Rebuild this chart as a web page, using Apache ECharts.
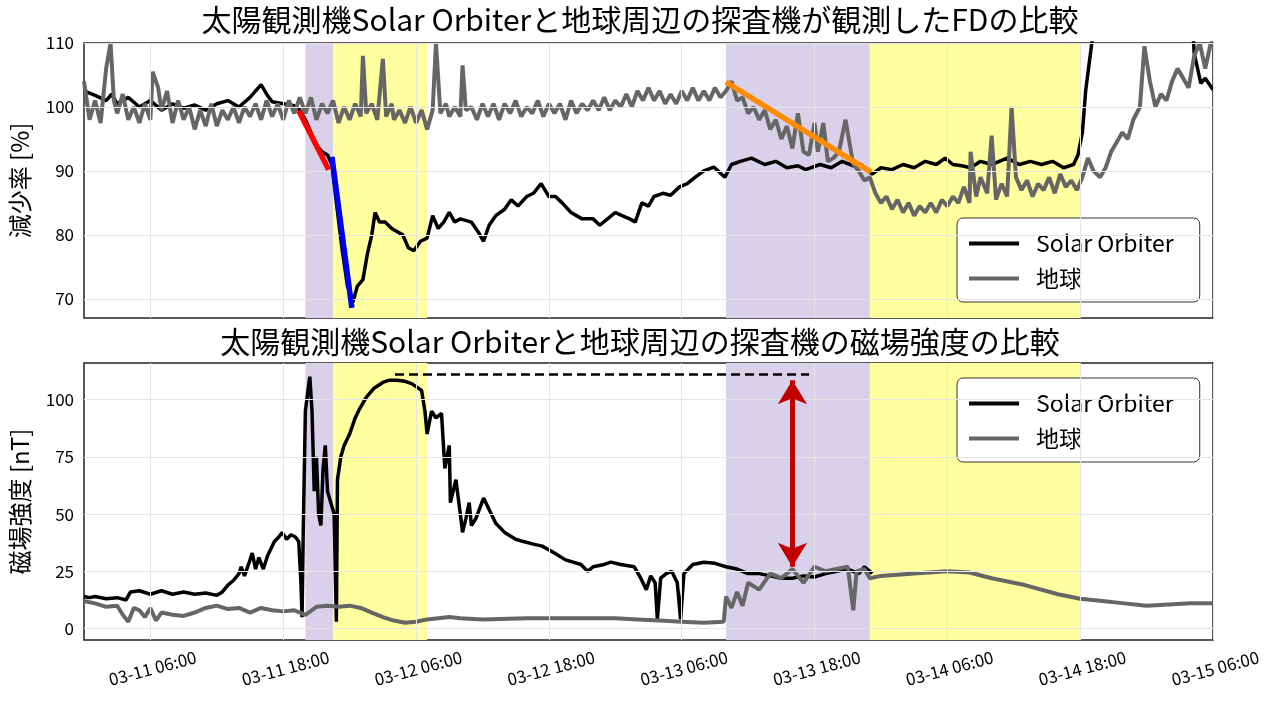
<!DOCTYPE html>
<html>
<head>
<meta charset="utf-8">
<script src="https://cdn.jsdelivr.net/npm/echarts@6/dist/echarts.min.js"></script>
<style>html,body{margin:0;background:#fff}#main{width:1280px;height:709px}</style>
</head>
<body>
<div id="main"></div>
<script>
// hours since 03-11 00:00
var soFdH = [0,1,2,2.5,3,4,5,6,7,8,9,10,11,12,13,14,15,16,16.5,17,18,19,19.5,20,20.5,21,21.5,22,22.4,22.8,23.3,23.8,24.3,24.7,25.2,25.6,26,26.3,26.7,27.2,27.8,28.3,28.8,29.3,29.8,30.4,31,31.5,32,32.5,33,33.5,34,35,35.6,36.1,36.6,37.2,38,38.6,39.2,40,40.6,41.3,42,42.6,43.2,44,45,46,46.6,47.3,48,48.6,49.3,49.8,50.4,51,51.5,52.3,53,53.8,54.5,55.2,56,56.9,57.9,58.5,59.3,60.3,61.5,62.5,63.5,64.5,65.2,66.5,67.5,68.5,69.5,70.2,71.2,72,73,74,75,76,77,77.8,78.5,79.3,80.1,81,82,83.4,84.5,85.5,86.5,87.5,88.5,89.4,89.8,90.2,90.5,91.2,92,100,100.3,100.9,101.3,102];
var soFdV = [102.5,101.8,101,102,100.5,101.5,100,101,99.5,100.5,99.8,100.3,99.5,100.5,101,100,101.5,103.5,102,100.8,100.5,100.2,99.5,98,96,94,93,92.5,91,85,78,72,69.5,72,73,77,80,83.5,82,82,81,80.5,80,78,77.5,79,79.5,83,81,82,83.5,82,82.5,82,80.5,79,81.5,83,84,85.5,84.5,86,86.5,88,86,86,85,83.5,82.5,82.5,81.5,82.5,83.5,83,82.5,82,85,84.5,86,86.5,86.2,87.5,88,89,90,90.6,89,91,91.5,92,91,91.5,90.5,90.8,90.2,91,90.5,91.5,90.8,91,89.5,90.5,90.2,91,90.5,91.5,91,92,91,90.8,90.5,91.5,91,92,91,91.5,91,91.5,90.5,91,92.5,96,102.6,112,118,118,108.4,103.7,104.5,102.7];
var earthFdH = [0,0.5,1,1.5,2,2.4,2.7,3,3.5,4,4.5,5,5.5,6,6.2,6.7,7,7.5,8,8.5,9,9.5,10,10.5,11,11.5,12,12.5,13,13.5,14,14.5,15,15.5,16,16.5,17,17.5,18,18.5,19,19.5,20,20.5,21,21.5,22,22.5,23,23.5,24,24.5,25,25.2,25.5,26,26.5,27,27.3,27.8,28,28.5,29,29.5,30,30.5,31,31.5,31.8,32.2,32.7,33,33.5,34,34.2,34.5,35,35.5,36,36.5,37,37.5,38,38.5,39,39.5,40,40.5,41,41.5,42,42.5,43,43.5,44,44.5,45,45.5,46,46.5,47,47.5,48,48.5,49,49.5,50,50.5,51,51.5,52,52.5,53,53.5,54,54.5,55,55.5,56,56.5,57,57.5,58,58.5,59,59.5,60,60.5,61,61.5,62,62.5,63,63.5,64,64.5,65,65.5,66,66.3,66.8,67.2,67.7,68.2,68.8,69.5,70,70.5,71,71.5,72,72.5,73,73.5,74,74.5,75,75.5,76,76.5,77,77.5,78,78.5,79,79.5,80,80.1,80.6,81,81.6,82,82.4,82.9,83.4,83.8,84.2,84.7,85.2,85.7,86.2,86.7,87.2,87.7,88.2,88.7,89.2,89.7,90.2,90.7,91.2,91.8,92.3,92.8,93.3,93.8,94.3,94.8,95.4,95.8,96.3,96.8,97.3,97.8,98.3,98.8,99.3,99.8,100.3,100.8,101.3,101.8,102];
var earthFdV = [104,98,101,97.5,106,110,101,99,102,98,100,97.5,100.5,98,105.5,103,99.5,102.5,97.5,101,98,100,96.5,99.5,97,100.5,97,99.5,98,100,97.5,100,98.5,100.5,98,101,98.5,100.5,98,101,99,101.5,99,101.5,98,100.5,99,101,97.5,100,98,100.5,98.5,108,99,100.5,98,107.5,98.5,100.5,98,99.5,97.5,100,97.5,99.5,96.5,99.5,110,99,100.5,98.5,100,98.5,106.5,99.5,100,98,100.5,98.5,100.5,98,100.5,99,101,98.5,100,99,101,98.5,100.5,99,100.5,98,101,99,100.5,99.5,101,99.5,101.5,99.5,101,100,102,100,102.5,101,103,101,102.5,100.5,102,100.5,102.5,101,103,101,102.5,101,103,101.5,102.5,104,101,101.5,99,100,98,99.5,96.5,98,95,97,93.5,99,93,92.5,97.5,93,97.5,91.5,92,93,98,91,90,88.5,89,86.5,85,86,84,85.5,83.5,85,83,84.5,83.5,85,83.5,85.5,84.5,86,85,87.5,85,93,86,89,86.5,95.5,85.5,88,86,100,89,87,88.5,86,88,87,89,86.5,89.5,87.5,88.5,87,89,92,90,89,90.5,93,94.5,96,95,98,100,109.5,104,100,102,101,104,106,104.5,103,108,110,106,110,110];
var soBH = [0,0.5,1,2,3,3.8,4.2,5,6,7,8,9,10,11,12,12.5,13,13.5,14,14.2,14.5,15,15.2,15.5,15.8,16.2,16.6,17,17.2,17.6,17.9,18.3,18.7,19.1,19.4,19.6,19.7,19.8,20,20.4,20.6,20.8,21,21.2,21.4,21.6,21.8,22,22.3,22.6,22.8,22.9,23.2,23.5,24,24.5,24.9,25.5,26.2,27,27.6,28.3,29,29.6,30.2,30.5,30.8,31,31.4,31.8,32.3,32.6,33,33.1,33.6,34,34.2,34.5,34.8,35,35.4,36.1,36.6,37.2,38,39,39.7,40.5,41.4,42.5,43.5,44.9,45.5,46,47,47.6,48.5,49.7,50.3,50.8,51.2,51.6,51.8,52.1,52.6,53.1,53.6,53.9,54.2,55,56,57,58,59,60,61,62,63,64,65,66,67,68,69,70,70.5,71,71.2];
var soBV = [14,13.5,14,13,13.5,12.5,16,16.5,15,16.5,15,16,15,15.5,14.5,16,19,21,24,27,23,30,33,26,31,26,32,36,38,40,42,39,41,40,38,20,5,40,95,110,95,60,75,50,45,70,80,60,55,50,3,65,75,80,85,92,96,101,105,107.5,108.5,108.5,108,107,105,104,95,85,95,92,94,70,80,55,65,50,42,48,55,45,48,57,52,46,42,39,38,37,36,33,30,28,25,27,28,29,28,27,22,17,23,20,4,22,24,25,20,4,24,28,29,28.5,27,26,24,24,23,22,22,23,22.5,24,25,26,24,27,25,24];
var earthBH = [0,1,2,3,3.5,4,4.5,5,5.5,6,6.5,7,8,9,10,11,12,13,14,15,16,17,18,19,20,21,22,23,24,25,26,27,28,29,30,31,32,33,34,36,40,44,48,50,52,54,56,57.8,58,58.5,59,59.5,60,61,62,63,64,65,66,67,68,69,69.5,69.8,70.5,71,72,75,78,80,82,85,88,90,92,94,96,98,100,102];
var earthBV = [12,11,9.5,10,6,3,9,8,5,9,3.5,7,6,5.5,7,9,10,8.5,9,7,9,8,7.5,8,6,9.5,10,9.5,10,9,7,5,3.5,2.5,3,4,4.5,5,4.5,4,4.5,4.5,4.5,4,3.5,3,2.5,3,14,9,16,10,20,17,24,22,26,20,27,25,26,27,8,25,26,22,23,24,25,24.5,22,19,15,13,12,11,10,10.5,11,11];
var purpleBands = [[20, 22.5], [58, 71]];
var yellowBands = [[22.5, 31], [71, 90]];
var tickHours = [6, 18, 30, 42, 54, 66, 78, 90, 102];
var tickLabels = ['03-11 06:00','03-11 18:00','03-12 06:00','03-12 18:00','03-13 06:00','03-13 18:00','03-14 06:00','03-14 18:00','03-15 06:00'];
var fdTicks = [70, 80, 90, 100, 110];
var bTicks = [0, 25, 50, 75, 100];

function pairs(h, v) { return h.map(function (x, i) { return [x, v[i]]; }); }
var font = 'Noto Sans CJK JP';
var gridColor = '#e6e6e6';

function bands(gi, yTicks) {
  var a = [];
  purpleBands.forEach(function (b) { a.push([{xAxis: b[0], itemStyle: {color: '#d9d0e9'}}, {xAxis: b[1]}]); });
  yellowBands.forEach(function (b) { a.push([{xAxis: b[0], itemStyle: {color: '#ffffa0'}}, {xAxis: b[1]}]); });
  var lines = tickHours.map(function (t) { return {xAxis: t}; })
    .concat(yTicks.map(function (t) { return {yAxis: t}; }));
  return {
    type: 'line', xAxisIndex: gi, yAxisIndex: gi, data: [], silent: true,
    markArea: {silent: true, data: a},
    markLine: {silent: true, symbol: 'none', label: {show: false},
      lineStyle: {color: gridColor, width: 1, type: 'solid'}, data: lines}
  };
}
function seg(gi, p0, p1, color) {
  return {type: 'line', xAxisIndex: gi, yAxisIndex: gi, data: [p0, p1], symbol: 'none',
    lineStyle: {color: color, width: 5.5}, silent: true, z: 5};
}
function xAx(gi, labels) {
  return {type: 'value', gridIndex: gi, min: 0, max: 102, interval: 6,
    splitLine: {show: false}, axisTick: {show: false}, axisLine: {show: false},
    axisLabel: {show: labels, rotate: 15, margin: 20, align: 'center', verticalAlign: 'top',
      fontFamily: font, fontSize: 17, color: '#000',
      formatter: function (v) { var i = tickHours.indexOf(v); return i >= 0 ? tickLabels[i] : ''; }}};
}
function yAx(gi, name, min, max, step, ticks) {
  return {type: 'value', gridIndex: gi, min: min, max: max, interval: step,
    name: name, nameLocation: 'middle', nameGap: 52, nameRotate: 90,
    nameTextStyle: {fontFamily: font, fontSize: 24, color: '#000'},
    splitLine: {show: false}, axisTick: {show: false}, axisLine: {show: false},
    axisLabel: {fontFamily: font, fontSize: 17, color: '#000', margin: 10,
      formatter: function (v) { return ticks.indexOf(Math.round(v)) >= 0 && Math.abs(v - Math.round(v)) < 1e-6 ? String(Math.round(v)) : ''; }}};
}
function legend(top) {
  return {left: 957, top: top, orient: 'vertical', itemGap: 12, itemWidth: 50, itemHeight: 4,
    icon: 'rect', padding: [14, 26, 12, 12], backgroundColor: '#fff', borderColor: '#333',
    borderWidth: 1, borderRadius: 6,
    textStyle: {fontFamily: font, fontSize: 23, color: '#000', padding: [0, 0, 0, 12]},
    data: ['Solar Orbiter', '地球']};
}

var chart = echarts.init(document.getElementById('main'));
chart.setOption({
  animation: false,
  backgroundColor: '#fff',
  title: [
    {text: '太陽観測機Solar Orbiterと地球周辺の探査機が観測したFDの比較', left: 'center', top: 0,
      textStyle: {fontFamily: font, fontSize: 30, fontWeight: 'normal', color: '#000'}},
    {text: '太陽観測機Solar Orbiterと地球周辺の探査機の磁場強度の比較', left: 'center', top: 322,
      textStyle: {fontFamily: font, fontSize: 30, fontWeight: 'normal', color: '#000'}}
  ],
  legend: [legend(218), legend(378)],
  grid: [
    {left: 82, right: 67, top: 43, height: 275, show: true, borderColor: '#222', borderWidth: 1.5, backgroundColor: 'transparent'},
    {left: 82, right: 67, top: 363, height: 277, show: true, borderColor: '#222', borderWidth: 1.5, backgroundColor: 'transparent'}
  ],
  xAxis: [xAx(0, false), xAx(1, true)],
  yAxis: [yAx(0, '減少率 [%]', 67, 110, 1, fdTicks), yAx(1, '磁場強度 [nT]', -5, 116, 5, bTicks)],
  series: [
    bands(0, fdTicks), bands(1, bTicks),
    {name: 'Solar Orbiter', type: 'line', xAxisIndex: 0, yAxisIndex: 0, data: pairs(soFdH, soFdV),
      symbol: 'none', itemStyle: {color: '#000'}, lineStyle: {color: '#000', width: 3.5}, z: 3},
    {name: '地球', type: 'line', xAxisIndex: 0, yAxisIndex: 0, data: pairs(earthFdH, earthFdV),
      symbol: 'none', itemStyle: {color: '#666'}, lineStyle: {color: '#666', width: 4}, z: 4},
    {name: 'Solar Orbiter', type: 'line', xAxisIndex: 1, yAxisIndex: 1, data: pairs(soBH, soBV),
      symbol: 'none', itemStyle: {color: '#000'}, lineStyle: {color: '#000', width: 3.5}, z: 3},
    {name: '地球', type: 'line', xAxisIndex: 1, yAxisIndex: 1, data: pairs(earthBH, earthBV),
      symbol: 'none', itemStyle: {color: '#666'}, lineStyle: {color: '#666', width: 4}, z: 4},
    seg(0, [19.4, 99.4], [22.1, 90.2], '#ff0000'),
    seg(0, [22.4, 92.2], [24.2, 68.6], '#0000ee'),
    seg(0, [58, 103.9], [71.1, 89.8], '#ff8c00'),
    {type: 'line', xAxisIndex: 1, yAxisIndex: 1, data: [[28.1, 111], [65.5, 111]], symbol: 'none',
      lineStyle: {color: '#000', width: 2.5, type: [9, 5]}, silent: true, z: 5},
    {type: 'line', xAxisIndex: 1, yAxisIndex: 1, data: [], silent: true, z: 6,
      markLine: {silent: true, symbol: ['arrow', 'arrow'], symbolSize: [22, 24], label: {show: false},
        lineStyle: {color: '#c00000', width: 5, type: 'solid'},
        data: [[{coord: [64, 108.5]}, {coord: [64, 27]}]]}}
  ]
});
</script>
</body>
</html>
